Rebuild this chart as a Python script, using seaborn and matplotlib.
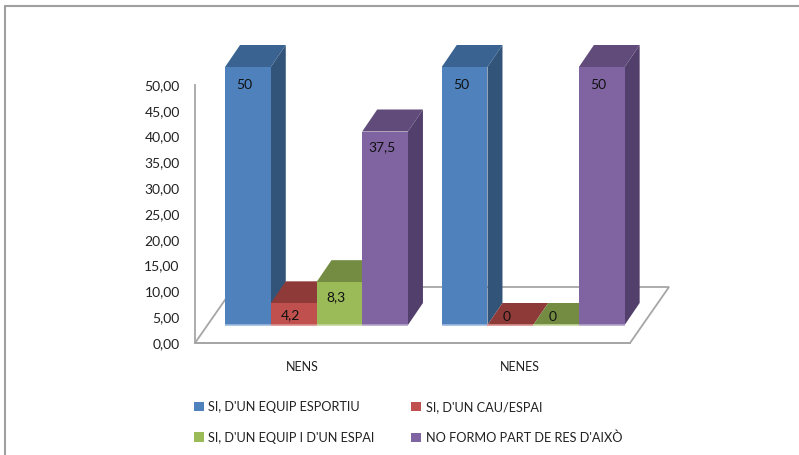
import numpy as np
import pandas as pd
import matplotlib
matplotlib.use("Agg")
import matplotlib.pyplot as plt
from matplotlib.patches import Polygon
from matplotlib.lines import Line2D
import seaborn as sns

groups = ["NENS", "NENES"]
answers = ["SI, D'UN EQUIP ESPORTIU", "SI, D'UN CAU/ESPAI",
           "SI, D'UN EQUIP I D'UN ESPAI", "NO FORMO PART DE RES D'AIXÒ"]
nens = [50, 4.2, 8.3, 37.5]
nenes = [50, 0, 0, 50]
y_ticks = [0, 5, 10, 15, 20, 25, 30, 35, 40, 45, 50]

front = ["#4F81BD", "#C0504D", "#9BBB59", "#8064A2"]
top = ["#3A6391", "#8E3A38", "#748C42", "#604B7B"]
side = ["#335479", "#7D3331", "#65793A", "#533F6B"]
rim = ["#9DB9DE", "#D98F8C", "#C3D69B", "#B3A2C7"]
gray = "#A6A6A6"

W, H = 799, 455
DEPTH_X, DEPTH_Y = 15, 22


def box(left, top_px, right, bottom):
    return [left / W, 1 - bottom / H, (right - left) / W, (bottom - top_px) / H]


df = pd.DataFrame({
    "group": np.repeat(groups, len(answers)),
    "answer": answers * len(groups),
    "value": nens + nenes,
})

sns.set_style("white")
plt.rcParams["font.family"] = ["Lato", "DejaVu Sans"]

fig = plt.figure(figsize=(W / 100, H / 100), dpi=100)
fig.patch.set_facecolor("white")

# axis frame with the labels, sits lower left of the bars like the excel 3d view
ax_frame = fig.add_axes(box(195, 85, 630, 343))
ax_frame.set_xlim((195 - 302) / 218, (630 - 302) / 218)
ax_frame.set_ylim(0, 50)
ax_frame.set_yticks(y_ticks)
ax_frame.set_yticklabels([f"{t:.2f}".replace(".", ",") for t in y_ticks], fontsize=10, color="#222222")
ax_frame.set_xticks([0, 1])
ax_frame.set_xticklabels(groups, fontsize=9, color="#222222")
ax_frame.tick_params(axis="both", length=0)
ax_frame.tick_params(axis="x", pad=13)
ax_frame.tick_params(axis="y", pad=11)
for name in ["top", "right"]:
    ax_frame.spines[name].set_visible(False)
for name in ["left", "bottom"]:
    ax_frame.spines[name].set_color(gray)
    ax_frame.spines[name].set_linewidth(1.3)

# floor of the 3d box, in frame data units
ux = 1 / 218
uy = 50 / 258
floor = [((195 - 302) * ux, 0), ((234 - 302) * ux, 56 * uy), ((669 - 302) * ux, 56 * uy), ((630 - 302) * ux, 0)]
ax_frame.add_patch(Polygon(floor, closed=True, fill=False, edgecolor=gray, linewidth=1.3, clip_on=False))

# bars on their own axes, same scale
ax = fig.add_axes(box(100, 67, 700, 325))
ax.patch.set_alpha(0)
sns.barplot(data=df, x="group", y="value", hue="answer", hue_order=answers, order=groups,
            palette=front, saturation=1, width=0.844, ax=ax, linewidth=0)
ax.set_xlim((100 - 316.5) / 216.7, (700 - 316.5) / 216.7)
ax.set_ylim(0, 50)
ax.axis("off")

handles, labels = ax.get_legend_handles_labels()
ax.get_legend().remove()

dx = DEPTH_X / (600 / (ax.get_xlim()[1] - ax.get_xlim()[0]))
dy = DEPTH_Y / (258 / 50)

bars = []
for i, container in enumerate(ax.containers):
    for bar in container:
        bars.append((bar, i))
bars.sort(key=lambda b: b[0].get_x())

# little offsets of the value labels below the bar top, in px
label_drop = {50: 18, 37.5: 15.5, 8.3: 15, 4.2: 12, 0: -8}

for n, (bar, i) in enumerate(bars):
    x0 = bar.get_x()
    x1 = x0 + bar.get_width()
    h = bar.get_height()
    z = 3 + n
    bar.set_zorder(z + 0.2)
    bar.set_clip_on(False)
    ax.add_patch(Polygon([(x1, 0), (x1 + dx, dy), (x1 + dx, h + dy), (x1, h)], facecolor=side[i],
                         edgecolor="none", zorder=z, clip_on=False))
    ax.add_patch(Polygon([(x0, h), (x0 + dx, h + dy), (x1 + dx, h + dy), (x1, h)], facecolor=top[i],
                         edgecolor="none", zorder=z + 0.1, clip_on=False))
    ax.plot([x0, x1], [0, 0], color=rim[i], linewidth=1.2, zorder=z + 0.3, clip_on=False, solid_capstyle="butt")
    text = f"{h:g}".replace(".", ",")
    ax.annotate(text, xy=((x0 + x1) / 2, h), xytext=(-2.5, -label_drop[h] * 0.72), textcoords="offset points",
                ha="center", va="center", fontsize=10, color="#111111", zorder=50, annotation_clip=False)

# chart border, only top and left show in the source
fig.add_artist(Line2D([5 / W, 5 / W], [0, 1 - 6 / H], color="#A0A0A0", linewidth=1.5))
fig.add_artist(Line2D([5 / W, 1], [1 - 6 / H, 1 - 6 / H], color="#A0A0A0", linewidth=1.5))

order = [0, 2, 1, 3]
fig.legend([handles[k] for k in order], [labels[k] for k in order], ncol=2, frameon=False,
           loc="upper left", bbox_to_anchor=(194 / W, 1 - 401 / H), fontsize=9.2,
           handlelength=0.75, handleheight=0.75, handletextpad=0.35, columnspacing=2.9,
           labelspacing=1.45, labelcolor="#222222", borderaxespad=0, borderpad=0)

fig.savefig("out.png", dpi=100)
